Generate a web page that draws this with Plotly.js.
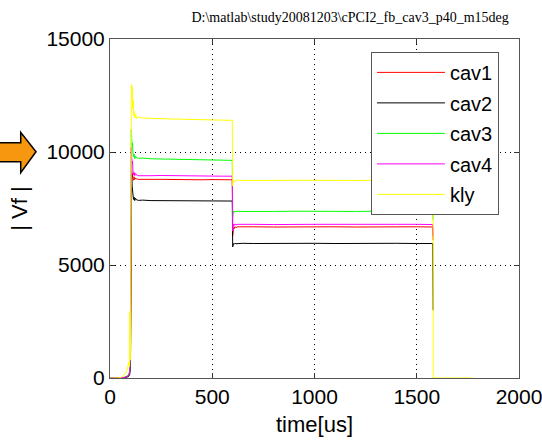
<!DOCTYPE html>
<html>
<head>
<meta charset="utf-8">
<script src="https://cdn.plot.ly/plotly-3.0.1.min.js"></script>
<style>html,body{margin:0;padding:0;background:#fff;}#chart{width:542px;height:444px;}</style>
</head>
<body>
<div id="chart"></div>
<script>
// ---- data ----
const seriesNames = ['cav1', 'cav2', 'cav3', 'cav4', 'kly'];
const seriesColors = ['#ff0000', '#000000', '#00ff00', '#ff00ff', '#ffff00'];

const timeCav = [0, 40, 70, 90, 96, 100, 102, 104, 106, 108,
                 110, 112, 115, 118, 121, 125, 130, 140, 160, 200,
                 250, 300, 350, 400, 450, 500, 550, 598, 600, 602,
                 604, 607, 611, 616, 625, 650, 700, 800, 900, 1000,
                 1100, 1200, 1300, 1400, 1500, 1578, 1580];

const cav1 = [0, 0, 20, 80, 200, 600, 4000, 8600, 9200, 8900,
              9050, 8850, 8750, 8900, 8780, 8850, 8800, 8790, 8800, 8790,
              8790, 8780, 8790, 8780, 8770, 8780, 8770, 8770, 6300, 6450,
              6650, 6600, 6700, 6660, 6690, 6680, 6690, 6680, 6690, 6680,
              6690, 6680, 6690, 6680, 6690, 6680, 6100];

const cav2 = [0, 0, 15, 60, 150, 500, 3500, 8000, 9000, 8500,
              8300, 8100, 7900, 8000, 7850, 7950, 7880, 7860, 7870, 7850,
              7850, 7840, 7860, 7840, 7850, 7830, 7840, 7830, 5800, 5850,
              5950, 5920, 5960, 5940, 5950, 5960, 5950, 5960, 5950, 5960,
              5950, 5960, 5950, 5960, 5950, 5950, 3000];

const cav3 = [0, 0, 30, 120, 300, 900, 6000, 11000, 10600, 10300,
              10400, 10000, 9800, 9900, 9700, 9820, 9750, 9720, 9730, 9700,
              9690, 9700, 9680, 9670, 9660, 9650, 9640, 9630, 7100, 7250,
              7380, 7330, 7390, 7360, 7380, 7370, 7380, 7370, 7380, 7370,
              7380, 7370, 7380, 7370, 7380, 7380, 7000];

const cav4 = [0, 0, 25, 100, 250, 1100, 5000, 10200, 9800, 9500,
              9600, 9200, 9000, 9100, 8950, 9050, 8980, 8950, 8960, 8950,
              8960, 8950, 8950, 8940, 8950, 8940, 8930, 8930, 6500, 6650,
              6800, 6750, 6820, 6780, 6800, 6790, 6800, 6790, 6810, 6800,
              6800, 6790, 6810, 6800, 6800, 6790, 6300];

const timeKly = [0, 40, 60, 75, 85, 92, 95, 97, 99, 101,
                 103, 105, 107, 109, 111, 113, 116, 119, 122, 126,
                 130, 140, 160, 200, 300, 400, 500, 598, 600, 602,
                 606, 612, 620, 650, 700, 800, 900, 1000, 1100, 1200,
                 1300, 1400, 1500, 1580, 1580, 1775];

const kly = [0, 0, 50, 200, 400, 700, 500, 2950, 800, 2000,
             9000, 13000, 12300, 12900, 11900, 12300, 11600, 11800, 11500, 11650,
             11480, 11550, 11500, 11480, 11460, 11440, 11420, 11400, 8500, 8650,
             8750, 8700, 8760, 8740, 8750, 8740, 8750, 8740, 8750, 8740,
             8750, 8740, 8750, 8750, 0, 0];

const xTicks = [0, 500, 1000, 1500, 2000];
const yTicks = [0, 5000, 10000, 15000];

// ---- traces ----
const ys = [cav1, cav2, cav3, cav4, kly];
const xs = [timeCav, timeCav, timeCav, timeCav, timeKly];
const traces = seriesNames.map((n, i) => ({
  type: 'scatter', mode: 'lines', name: n,
  x: xs[i], y: ys[i],
  line: {color: seriesColors[i], width: 1},
  legendgroup: n
}));

const FONT = 'Arial, "Liberation Sans", sans-serif';
const axisCommon = {
  ticks: 'inside', ticklen: 5, tickwidth: 1, tickcolor: '#333',
  showline: true, linecolor: '#555', linewidth: 1, mirror: 'ticks',
  showgrid: true, gridcolor: '#000', griddash: '1px,4px', gridwidth: 1,
  zeroline: false, tickfont: {family: FONT, size: 21, color: '#000'},
  ticklabeloverflow: 'allow', fixedrange: true
};

const layout = {
  width: 542, height: 444,
  margin: {l: 110, r: 23, t: 39, b: 66, pad: 0},
  paper_bgcolor: '#fff', plot_bgcolor: '#fff',
  title: {text: 'D:\\matlab\\study20081203\\cPCI2_fb_cav3_p40_m15deg',
          font: {family: '"Liberation Serif", "Times New Roman", serif', size: 14, color: '#000'},
          x: 0.646, xanchor: 'center', y: 0.962, yanchor: 'middle'},
  xaxis: Object.assign({}, axisCommon, {
    range: [0, 2000], tickvals: xTicks,
    title: {text: 'time[us]', font: {family: FONT, size: 22, color: '#000'}, standoff: 9}
  }),
  yaxis: Object.assign({}, axisCommon, {
    range: [0, 15000], tickvals: yTicks, tickformat: 'd',
    title: {text: '| Vf |', font: {family: FONT, size: 22, color: '#000'}, standoff: 12}
  }),
  showlegend: true,
  legend: {
    x: 0.638, y: 0.962, xanchor: 'left', yanchor: 'top',
    bgcolor: '#fff', bordercolor: '#555', borderwidth: 1,
    font: {family: FONT, size: 20, color: '#000'},
    itemwidth: 68, traceorder: 'grouped', tracegroupgap: 1.5
  },
  shapes: [{
    type: 'path', xref: 'paper', yref: 'paper', layer: 'above',
    path: 'M -0.275 0.6941 L -0.2183 0.6941 L -0.2183 0.7248 L -0.1809 0.6676 L -0.2183 0.6056 L -0.2183 0.6381 L -0.275 0.6381 Z',
    fillcolor: '#f7960f', line: {color: '#000', width: 1.5}
  }]
};

Plotly.newPlot('chart', traces, layout, {displayModeBar: false, staticPlot: true});
</script>
</body>
</html>
